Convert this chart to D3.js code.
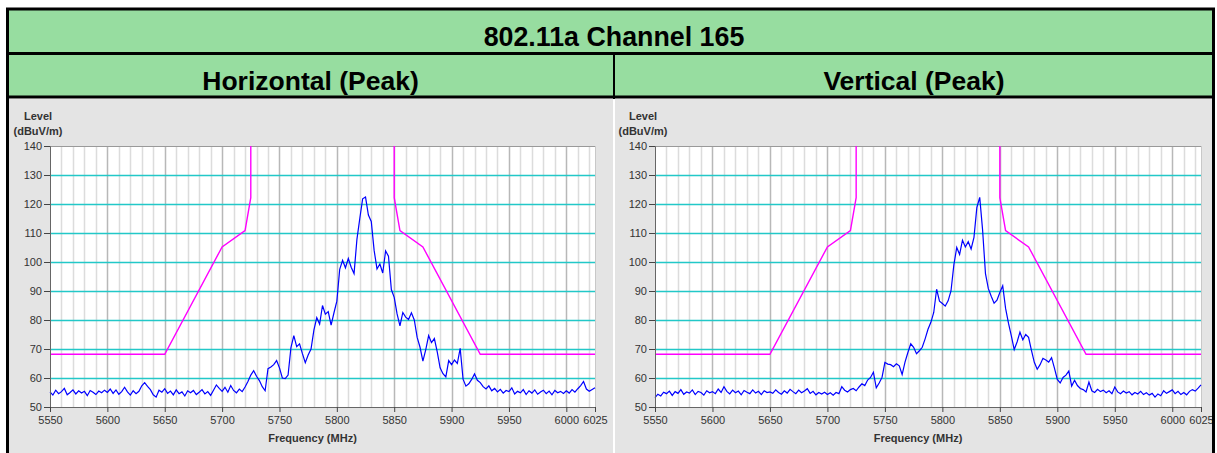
<!DOCTYPE html>
<html>
<head>
<meta charset="utf-8">
<script src="https://cdn.jsdelivr.net/npm/d3@7/dist/d3.min.js"></script>
<style>
  body { margin: 0; background: #fff; }
  svg { display: block; }
  .tick text { font-family: "Liberation Sans", Arial, sans-serif; font-size: 11px; fill: #333; }
</style>
</head>
<body>
<div id="chart"></div>
<script>
var width = 1217,
    height = 453;

// sweep: 5550 - 6025 MHz, one reading every 2.5 MHz
var freqStart = 5550,
    freqStep = 2.5;

var hLevels = [
  55.2, 54.1, 55.8, 54.6, 55.3, 56.4, 54.2, 55.0, 55.9, 54.5, 55.6, 54.8, 55.4, 53.9, 55.7, 55.1, 54.3, 55.5, 54.9, 55.8,
  55.0, 56.2, 54.7, 55.9, 54.4, 55.3, 56.8, 55.2, 54.1, 55.6, 54.6, 55.4, 57.3, 58.4, 57.1, 56.0, 54.2, 53.4, 55.8, 55.1,
  56.3, 54.7, 55.5, 54.2, 55.9, 54.6, 55.2, 53.8, 55.6, 54.9, 55.7, 54.3, 55.1, 56.0, 54.5, 55.3, 54.0, 55.8, 57.6, 56.4,
  55.4, 56.8, 55.1, 57.4, 55.7, 54.9, 56.2, 55.3, 56.9, 58.8, 61.0, 62.5, 60.6, 59.1, 57.0, 55.6, 63.2, 63.8, 64.6, 66.0,
  63.5, 60.0, 59.8, 61.0, 70.5, 74.6, 70.8, 71.8, 68.4, 65.3, 67.9, 70.0, 76.5, 80.8, 78.6, 85.0, 82.0, 82.9, 78.2, 82.5,
  86.5, 97.5, 100.6, 98.0, 101.2, 98.2, 96.0, 107.8, 115.0, 121.8, 122.4, 116.2, 114.0, 104.0, 97.6, 99.3, 96.2, 103.8, 102.0, 90.5,
  87.8, 82.1, 78.0, 82.6, 81.0, 80.2, 82.5, 80.0, 74.0, 70.6, 65.8, 69.8, 74.6, 72.2, 73.6, 69.0, 63.5, 61.5, 60.4, 66.0,
  64.6, 66.2, 65.0, 70.2, 59.6, 57.2, 58.0, 59.5, 61.4, 59.2, 58.4, 57.0, 56.2, 57.3, 55.6, 56.4, 55.2, 56.1, 54.8, 55.7,
  55.3, 56.6, 54.5, 55.4, 54.9, 56.0, 54.3, 55.6, 54.8, 55.9, 54.4, 55.2, 55.8, 54.6, 55.5, 54.2, 55.7, 54.9, 55.4, 54.7,
  55.6, 54.8, 56.0, 55.1, 56.3, 57.4, 58.8, 56.2, 55.4, 56.0, 56.6
];

var vLevels = [
  53.2, 54.4, 53.8, 55.1, 54.6, 55.5, 54.0, 55.3, 54.7, 56.0, 54.4, 55.2, 54.8, 55.9, 54.3, 55.4, 55.0, 54.1, 55.6, 54.9,
  55.3, 54.6, 56.2, 55.0, 57.0, 55.4, 54.5, 55.8, 54.9, 55.5, 54.2, 55.7, 55.1, 54.6, 55.9, 54.8, 55.4, 54.3, 55.6, 55.0,
  55.2, 54.7, 55.9, 55.0, 54.4, 55.6, 54.8, 56.1, 55.3, 54.6, 55.8, 54.9, 55.5, 56.3, 54.7, 55.4, 54.2, 55.0, 54.5, 55.1,
  54.3, 54.9, 54.1, 55.0, 54.6, 57.0, 55.8, 55.2, 56.0, 56.4, 55.6, 56.9, 58.0, 57.4, 59.3, 60.2, 62.0, 56.6, 58.3, 60.2,
  65.4, 64.8, 64.6, 63.9, 64.9, 64.2, 61.2, 65.5, 68.8, 71.8, 70.6, 68.4, 69.4, 70.6, 73.5, 76.8, 79.2, 82.6, 90.6, 86.5,
  85.7, 84.8, 86.6, 90.0, 99.0, 105.0, 102.6, 107.5, 105.2, 107.0, 104.5, 108.5, 118.8, 122.3, 111.0, 96.0, 90.8, 88.2, 85.8, 86.8,
  89.5, 91.8, 84.0, 78.9, 74.5, 69.8, 72.4, 75.8, 73.2, 75.0, 74.0, 69.5, 65.4, 63.0, 64.6, 66.8, 66.2, 65.5, 67.0, 63.4,
  59.5, 58.3, 60.2, 61.0, 62.4, 57.2, 59.2, 57.4, 56.4, 56.0, 55.2, 58.6, 55.6, 55.0, 56.1, 55.3, 55.8, 54.9, 55.6, 54.6,
  56.9, 55.2, 54.6, 55.5, 54.8, 55.3, 54.2, 55.0, 54.5, 55.4, 54.3, 54.9, 54.1, 54.7, 53.4, 54.5, 53.9, 55.6, 54.7, 55.3,
  55.9, 54.6, 55.4, 54.3, 55.0, 54.2, 55.4, 56.0, 55.5, 56.5, 57.6
];

// limit mask (two pieces either side of the 5725-5850 band)
var maskLowFreq = [5550, 5650, 5700, 5720, 5725, 5725];
var maskLowLevel = [68.2, 68.2, 105.2, 110.8, 122.2, 140];
var maskHighFreq = [5850, 5850, 5855, 5875, 5925, 6025];
var maskHighLevel = [140, 122.2, 110.8, 105.2, 68.2, 68.2];

var xTicks = [5550, 5600, 5650, 5700, 5750, 5800, 5850, 5900, 5950, 6000, 6025];
var yTicks = [50, 60, 70, 80, 90, 100, 110, 120, 130, 140];

var mainTitle = "802.11a Channel 165";
var panelTitles = ["Horizontal (Peak)", "Vertical (Peak)"];

var panels = [
  { title: panelTitles[0], levels: hLevels, x0: 8, x1: 613, left: 50, right: 595 },
  { title: panelTitles[1], levels: vLevels, x0: 615, x1: 1213, left: 655, right: 1201 }
];

var plotTop = 146, plotBottom = 407;

var svg = d3.select("#chart").append("svg")
    .attr("width", width)
    .attr("height", height);

// header rows
svg.append("rect").attr("x", 8).attr("y", 9).attr("width", 1205).attr("height", 88).attr("fill", "#97dda0");
svg.append("text")
    .attr("x", 614).attr("y", 46)
    .attr("text-anchor", "middle")
    .attr("font-family", "Liberation Sans, Arial, sans-serif")
    .attr("font-weight", "bold")
    .attr("font-size", 26.8)
    .text(mainTitle);

var y = d3.scaleLinear().domain([50, 140]).range([plotBottom, plotTop]);

panels.forEach(function(p) {
    var x = d3.scaleLinear().domain([5550, 6025]).range([p.left, p.right]);

    svg.append("text")
        .attr("x", (p.x0 + p.x1) / 2).attr("y", 90)
        .attr("text-anchor", "middle")
        .attr("font-family", "Liberation Sans, Arial, sans-serif")
        .attr("font-weight", "bold")
        .attr("font-size", 26.5)
        .text(p.title);

    // gray panel
    svg.append("rect")
        .attr("x", p.x0).attr("y", 99)
        .attr("width", p.x1 - p.x0).attr("height", height - 99)
        .attr("fill", "#e4e4e4");

    var g = svg.append("g");

    g.append("rect")
        .attr("x", p.left).attr("y", plotTop)
        .attr("width", p.right - p.left).attr("height", plotBottom - plotTop)
        .attr("fill", "#fff");

    // vertical grid every 10 MHz, darker every 50
    var vGrid = d3.range(5560, 6025, 10);
    g.selectAll(".vg").data(vGrid).enter().append("line")
        .attr("x1", function(d) { return Math.round(x(d)) + 0.5; })
        .attr("x2", function(d) { return Math.round(x(d)) + 0.5; })
        .attr("y1", plotTop).attr("y2", plotBottom)
        .attr("stroke", function(d) { return d % 50 === 0 ? "#b8b8b8" : "#dcdcdc"; })
        .attr("stroke-width", 1.5);

    // horizontal grid
    g.selectAll(".hg").data(yTicks.slice(1, -1)).enter().append("line")
        .attr("x1", p.left).attr("x2", p.right)
        .attr("y1", function(d) { return Math.round(y(d)) + 0.5; })
        .attr("y2", function(d) { return Math.round(y(d)) + 0.5; })
        .attr("stroke", "#22c8c8")
        .attr("stroke-width", 1.5);

    // frame
    g.append("line").attr("x1", p.left).attr("x2", p.right).attr("y1", plotTop + 0.5).attr("y2", plotTop + 0.5)
        .attr("stroke", "#999");
    g.append("line").attr("x1", p.right + 0.5).attr("x2", p.right + 0.5).attr("y1", plotTop).attr("y2", plotBottom)
        .attr("stroke", "#c8c8c8");

    // limit mask
    var maskLine = d3.line()
        .x(function(d) { return x(d[0]); })
        .y(function(d) { return y(d[1]); });
    [[maskLowFreq, maskLowLevel], [maskHighFreq, maskHighLevel]].forEach(function(m) {
        g.append("path")
            .datum(d3.zip(m[0], m[1]))
            .attr("d", maskLine)
            .attr("fill", "none")
            .attr("stroke", "#ff00ff")
            .attr("stroke-width", 1.4);
    });

    // trace
    var trace = d3.line()
        .x(function(d, i) { return x(freqStart + i * freqStep); })
        .y(function(d) { return y(d); });
    g.append("path")
        .datum(p.levels)
        .attr("d", trace)
        .attr("fill", "none")
        .attr("stroke", "#0000ff")
        .attr("stroke-width", 1.2);

    // axes
    var yAxis = g.append("g")
        .attr("transform", "translate(" + p.left + ",0)")
        .call(d3.axisLeft(y).tickValues(yTicks).tickSize(6).tickPadding(2));
    yAxis.select(".domain").attr("stroke", "#666");
    yAxis.selectAll(".tick line").attr("stroke", "#444");

    var xAxis = g.append("g")
        .attr("transform", "translate(0," + plotBottom + ")")
        .call(d3.axisBottom(x).tickValues(xTicks).tickSize(5).tickPadding(4).tickFormat(d3.format("d")));
    xAxis.select(".domain").attr("stroke", "#666");
    xAxis.selectAll(".tick line").attr("stroke", "#444");

    // axis titles
    var lx = p.left - 12;
    g.append("text").attr("x", lx).attr("y", 120).attr("text-anchor", "middle")
        .attr("font-family", "Liberation Sans, Arial, sans-serif").attr("font-weight", "bold")
        .attr("font-size", 11).attr("fill", "#333").text("Level");
    g.append("text").attr("x", lx).attr("y", 135).attr("text-anchor", "middle")
        .attr("font-family", "Liberation Sans, Arial, sans-serif").attr("font-weight", "bold")
        .attr("font-size", 11).attr("fill", "#333").text("(dBuV/m)");
    g.append("text").attr("x", (p.left + p.right) / 2 - 10).attr("y", 442).attr("text-anchor", "middle")
        .attr("font-family", "Liberation Sans, Arial, sans-serif").attr("font-weight", "bold")
        .attr("font-size", 11).attr("fill", "#333").text("Frequency (MHz)");
});

// black table lines
var border = svg.append("g").attr("stroke", "#000").attr("fill", "none");
border.append("line").attr("x1", 6).attr("x2", 1215).attr("y1", 9).attr("y2", 9).attr("stroke-width", 3);
border.append("line").attr("x1", 7.5).attr("x2", 7.5).attr("y1", 8).attr("y2", height).attr("stroke-width", 3);
border.append("line").attr("x1", 1213.5).attr("x2", 1213.5).attr("y1", 8).attr("y2", height).attr("stroke-width", 3);
border.append("line").attr("x1", 7).attr("x2", 1214).attr("y1", 53.5).attr("y2", 53.5).attr("stroke-width", 3);
border.append("line").attr("x1", 7).attr("x2", 1214).attr("y1", 97).attr("y2", 97).attr("stroke-width", 3);
border.append("line").attr("x1", 614).attr("x2", 614).attr("y1", 53).attr("y2", 99).attr("stroke-width", 2);
</script>
</body>
</html>
